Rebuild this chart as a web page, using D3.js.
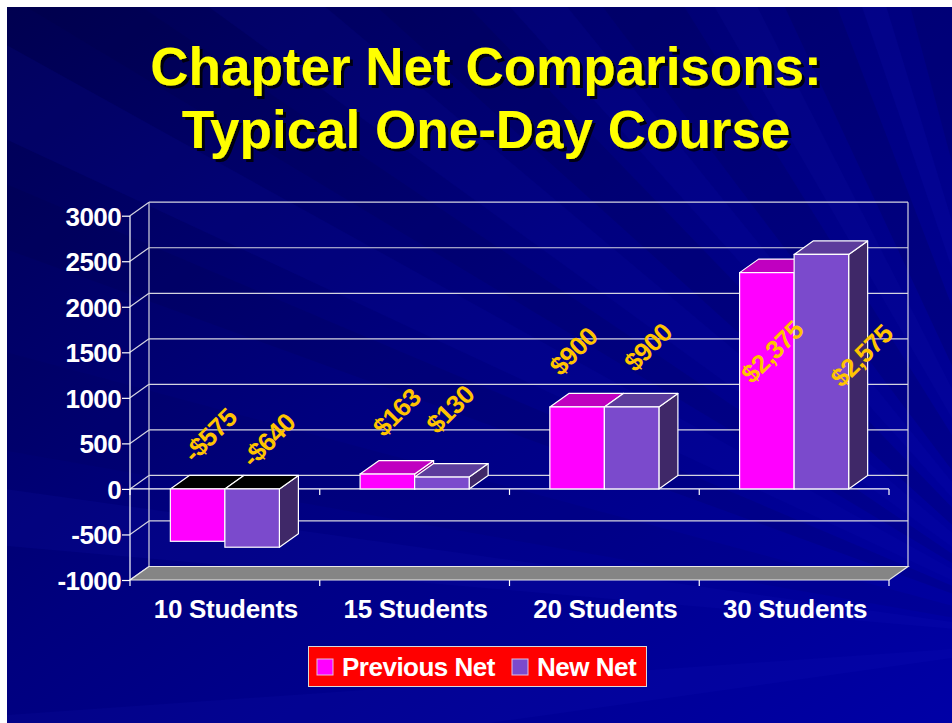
<!DOCTYPE html>
<html>
<head>
<meta charset="utf-8">
<script src="https://cdn.jsdelivr.net/npm/d3@7/dist/d3.min.js"></script>
<style>
  html, body { margin: 0; padding: 0; background: #ffffff; }
  svg { display: block; }
  text { font-family: "Liberation Sans", Arial, sans-serif; font-weight: bold; }
</style>
</head>
<body>
<svg id="chart" width="952" height="723"></svg>
<script>
// ---- data ----
const titleLines = ["Chapter Net Comparisons:", "Typical One-Day Course"];
const categories = ["10 Students", "15 Students", "20 Students", "30 Students"];
const seriesNames = ["Previous Net", "New Net"];
const previousNet = [-575, 163, 900, 2375];
const newNet = [-640, 130, 900, 2575];
const yTicks = [-1000, -500, 0, 500, 1000, 1500, 2000, 2500, 3000];

// ---- layout / style (not data) ----
const W = 952, H = 723;
const plot = { left: 130, right: 889, top: 215.7, bottom: 580 };
const depth = { dx: 19, dy: -13.5 };
const seriesColors = [
  { front: "#FF00FF", top: "#C000C0", side: "#8A008A" },
  { front: "#7B4ACC", top: "#5C3C9C", side: "#3F2868" }
];
const labelColor = "#FFC400";
// pixel nudges of the rotated value labels, relative to bar top-centre
const labelNudge = [
  [[12, -54], [16, -49]],
  [[9, -62], [8, -68]],
  [[-4, -56], [16, -60]],
  [[5, 79], [40, 101]]
];

const svg = d3.select("#chart");

// ---- background ----
const defs = svg.append("defs");
const bg = defs.append("linearGradient").attr("id", "bgGrad")
  .attr("x1", "0%").attr("y1", "0%").attr("x2", "100%").attr("y2", "100%");
bg.append("stop").attr("offset", "0%").attr("stop-color", "#000050");
bg.append("stop").attr("offset", "45%").attr("stop-color", "#00007E");
bg.append("stop").attr("offset", "100%").attr("stop-color", "#0000A6");
svg.append("rect").attr("x", 7).attr("y", 7).attr("width", W - 7).attr("height", H - 7)
  .attr("fill", "url(#bgGrad)");

const shadow = defs.append("filter").attr("id", "titleShadow")
  .attr("x", "-5%").attr("y", "-20%").attr("width", "110%").attr("height", "140%");
shadow.append("feDropShadow").attr("dx", 3).attr("dy", 3).attr("stdDeviation", 0.4)
  .attr("flood-color", "#000000").attr("flood-opacity", 0.85);

// diagonal light rays radiating from lower right
defs.append("clipPath").attr("id", "bgClip").append("rect")
  .attr("x", 7).attr("y", 7).attr("width", W - 7).attr("height", H - 7);
const rayG = svg.append("g").attr("clip-path", "url(#bgClip)");
const cx = 1080, cy = 640;
const rays = [
  [200, 203, 0.10, "#000030"], [205, 209, 0.12, "#1010C0"], [211, 214, 0.10, "#000030"],
  [216, 220, 0.10, "#1515C8"], [222, 226, 0.12, "#000030"], [228, 231, 0.09, "#1818D0"],
  [233, 238, 0.12, "#000030"], [240, 243, 0.08, "#2020D0"], [245, 249, 0.14, "#000035"],
  [251, 253, 0.10, "#2020D8"], [255, 259, 0.13, "#000030"], [261, 262.5, 0.12, "#3030E0"],
  [264, 267, 0.14, "#000030"], [185, 188, 0.10, "#2020D0"], [190, 195, 0.08, "#000040"],
  [172, 176, 0.08, "#2525D5"]
];
rays.forEach(r => {
  const a1 = r[0] * Math.PI / 180, a2 = r[1] * Math.PI / 180, R = 2000;
  rayG.append("path")
    .attr("d", `M${cx},${cy}L${cx + R * Math.cos(a1)},${cy + R * Math.sin(a1)}L${cx + R * Math.cos(a2)},${cy + R * Math.sin(a2)}Z`)
    .attr("fill", r[3]).attr("opacity", r[2]);
});

// ---- title ----
const titleG = svg.append("g").attr("filter", "url(#titleShadow)");
titleLines.forEach((t, i) => {
  const yb = 85 + i * 63;
  titleG.append("text").attr("x", W / 2 + 10).attr("y", yb)
    .attr("text-anchor", "middle").attr("font-size", 53).attr("fill", "#FFFF00").text(t);
});

// ---- scales ----
const y = d3.scaleLinear().domain([yTicks[0], yTicks[yTicks.length - 1]])
  .range([plot.bottom, plot.top]);
const x = d3.scaleBand().domain(categories).range([plot.left, plot.right])
  .paddingInner(0).paddingOuter(0);
const xs = d3.scaleBand().domain(d3.range(seriesNames.length)).range([0, x.bandwidth()])
  .paddingInner(0).paddingOuter(0.74);

const gridColor = "#D4D4E0";
const g = svg.append("g");

// back wall gridlines + left wall diagonals
yTicks.forEach(t => {
  const yy = y(t);
  if (t > yTicks[0]) {
    g.append("line").attr("x1", plot.left + depth.dx).attr("x2", plot.right + depth.dx)
      .attr("y1", yy + depth.dy).attr("y2", yy + depth.dy)
      .attr("stroke", gridColor).attr("stroke-width", 1.2);
  }
  g.append("line").attr("x1", plot.left).attr("y1", yy)
    .attr("x2", plot.left + depth.dx).attr("y2", yy + depth.dy)
    .attr("stroke", gridColor).attr("stroke-width", 1.2);
});
// back wall verticals
[plot.left + depth.dx, plot.right + depth.dx].forEach(xx => {
  g.append("line").attr("x1", xx).attr("x2", xx)
    .attr("y1", y(yTicks[yTicks.length - 1]) + depth.dy).attr("y2", plot.bottom + depth.dy)
    .attr("stroke", gridColor).attr("stroke-width", 1.2);
});

// floor
g.append("path")
  .attr("d", `M${plot.left},${plot.bottom}L${plot.right},${plot.bottom}L${plot.right + depth.dx},${plot.bottom + depth.dy}L${plot.left + depth.dx},${plot.bottom + depth.dy}Z`)
  .attr("fill", "#858585").attr("stroke", "#E8E8E8").attr("stroke-width", 1.2);

// y axis
const yAxis = d3.axisLeft(y).tickValues(yTicks).tickSize(8).tickPadding(1).tickFormat(d => String(d));
const yAxisG = g.append("g").attr("transform", `translate(${plot.left},0)`).call(yAxis);
yAxisG.select(".domain").remove();
yAxisG.selectAll(".tick line").attr("stroke", "#ffffff").attr("stroke-width", 1.2);
yAxisG.selectAll(".tick text").attr("fill", "#ffffff").attr("font-size", 26)
  .attr("font-family", "Liberation Sans, Arial, sans-serif").attr("font-weight", "bold")
  .attr("letter-spacing", -0.6).attr("dy", "0.36em");
g.append("line").attr("x1", plot.left).attr("x2", plot.left)
  .attr("y1", plot.top).attr("y2", plot.bottom)
  .attr("stroke", "#ffffff").attr("stroke-width", 1.2);

// category axis at zero + ticks at zero and at floor
const boundaries = categories.map(c => x(c)).concat([plot.right]);
g.append("line").attr("x1", plot.left).attr("x2", plot.right)
  .attr("y1", y(0)).attr("y2", y(0)).attr("stroke", "#ffffff").attr("stroke-width", 1.2);
boundaries.forEach(b => {
  [y(0), plot.bottom].forEach(yy => {
    g.append("line").attr("x1", b).attr("x2", b).attr("y1", yy).attr("y2", yy + 6)
      .attr("stroke", "#ffffff").attr("stroke-width", 1.2);
  });
});

// category labels
g.selectAll(".catLabel").data(categories).enter().append("text")
  .attr("x", c => x(c) + x.bandwidth() / 2 + 1).attr("y", 618)
  .attr("text-anchor", "middle").attr("font-size", 26).attr("fill", "#ffffff")
  .attr("letter-spacing", -0.3)
  .text(c => c);

// ---- 3D bars ----
const series = [previousNet, newNet];
const barsG = svg.append("g");
categories.forEach((c, ci) => {
  series.forEach((vals, si) => {
    const v = vals[ci];
    const x0 = x(c) + xs(si), x1 = x0 + xs.bandwidth();
    const yTop = y(Math.max(v, 0)), yBot = y(Math.min(v, 0));
    const col = seriesColors[si];
    const dx = depth.dx, dy = depth.dy;
    barsG.append("path")
      .attr("d", `M${x1},${yTop}L${x1 + dx},${yTop + dy}L${x1 + dx},${yBot + dy}L${x1},${yBot}Z`)
      .attr("fill", col.side).attr("stroke", "#ffffff").attr("stroke-width", 1.2)
      .attr("stroke-linejoin", "round");
    barsG.append("path")
      .attr("d", `M${x0},${yTop}L${x0 + dx},${yTop + dy}L${x1 + dx},${yTop + dy}L${x1},${yTop}Z`)
      .attr("fill", v < 0 ? "#000000" : col.top).attr("stroke", "#ffffff").attr("stroke-width", 1.2)
      .attr("stroke-linejoin", "round");
    barsG.append("rect")
      .attr("x", x0).attr("y", yTop).attr("width", x1 - x0).attr("height", yBot - yTop)
      .attr("fill", col.front).attr("stroke", "#ffffff").attr("stroke-width", 1.2);
  });
});

// value labels
const fmt = v => (v < 0 ? "-" : "") + "$" + d3.format(",")(Math.abs(v));
categories.forEach((c, ci) => {
  series.forEach((vals, si) => {
    const v = vals[ci];
    const bx = x(c) + xs(si) + xs.bandwidth() / 2;
    const n = labelNudge[ci][si];
    const lx = bx + n[0], ly = y(Math.max(v, 0)) + n[1];
    svg.append("text")
      .attr("transform", `translate(${lx},${ly}) rotate(-45)`)
      .attr("text-anchor", "middle").attr("dy", "0.36em")
      .attr("font-size", 26).attr("fill", labelColor).attr("letter-spacing", -0.8)
      .text(fmt(v));
  });
});

// ---- legend ----
const leg = svg.append("g");
leg.append("rect").attr("x", 308.5).attr("y", 646.5).attr("width", 338).attr("height", 40)
  .attr("fill", "#FF0000").attr("stroke", "#D8D8D8").attr("stroke-width", 1);
const legItems = [
  { sq: 317, tx: 342 },
  { sq: 512, tx: 537 }
];
seriesNames.forEach((s, i) => {
  leg.append("rect").attr("x", legItems[i].sq).attr("y", 659).attr("width", 16).attr("height", 16)
    .attr("fill", seriesColors[i].front).attr("stroke", "#E0C0E0").attr("stroke-width", 1);
  leg.append("text").attr("x", legItems[i].tx).attr("y", 676)
    .attr("font-size", 26).attr("fill", "#ffffff").attr("letter-spacing", -0.5).text(s);
});
</script>
</body>
</html>
